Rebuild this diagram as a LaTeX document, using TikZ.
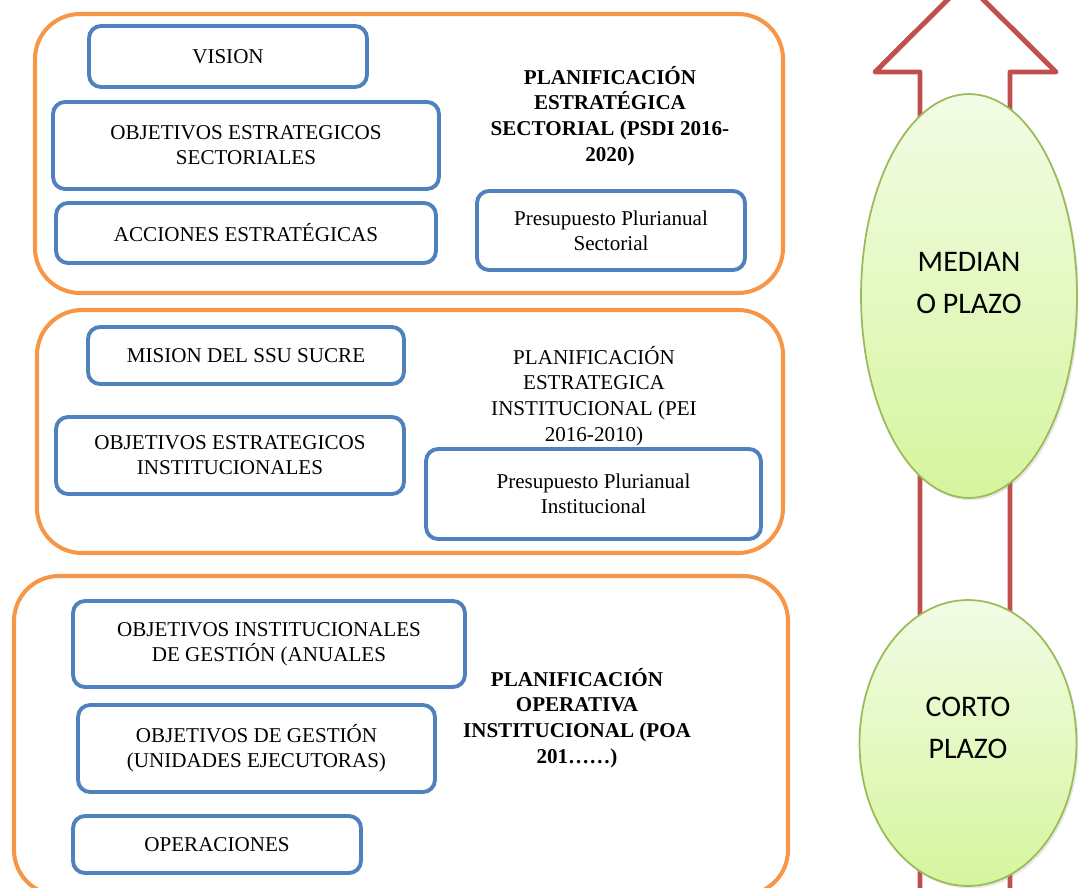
\documentclass[tikz,border=0pt]{standalone}
\usepackage{fontspec}
\setmainfont{Liberation Serif}
\newfontfamily\calibri{Carlito}
\usetikzlibrary{shapes.geometric,shadows}
\definecolor{planorange}{HTML}{F79646}
\definecolor{itemblue}{HTML}{4F81BD}
\definecolor{arrowred}{HTML}{C0504D}
\definecolor{ovalgreen}{HTML}{9BBB59}
\definecolor{ovaltop}{HTML}{F2FCE5}
\definecolor{ovalbottom}{HTML}{D6F59E}

\begin{document}
\begin{tikzpicture}[x=0.02cm, y=-0.02cm,
    plan/.style={draw=planorange, line width=2.3pt, rounded corners=0.9cm},
    item/.style={draw=itemblue, line width=2.2pt, rounded corners=0.24cm, align=center,
      inner sep=0pt, font=\fontsize{12}{14.2}\selectfont},
    plantitle/.style={align=center, font=\fontsize{12}{14.6}\selectfont},
    term/.style={ellipse, draw=ovalgreen, line width=1pt, inner sep=0pt,
      top color=ovaltop, bottom color=ovalbottom,
      drop shadow={opacity=0.18, shadow xshift=0.04cm, shadow yshift=-0.05cm}},
    termtext/.style={align=center, font=\calibri\fontsize{17}{23.5}\selectfont}]
  \useasboundingbox (0,0) rectangle (1078,888);
  \clip (0,0) rectangle (1078,888);

  % Arrow behind the ovals:
  \draw[arrowred, line width=2.8pt, line join=round]
    (920,920) -- (920,72) -- (875,72) -- (965.5,-18) -- (1056,72) -- (1010,72) -- (1010,920);
  \node[term, minimum width=4.32cm, minimum height=8.08cm] (mediano) at (969,296) {};
  \node[termtext] (medianotext) at (969,283) {MEDIAN\\O PLAZO};
  \node[term, minimum width=4.34cm, minimum height=5.72cm] (corto) at (968,743) {};
  \node[termtext] (cortotext) at (968,728) {CORTO\\PLAZO};

  % Planning levels:
  \draw[plan] (35,14) rectangle (783,293);
  \draw[plan] (37,310) rectangle (783,553);
  \draw[plan] (14,576) rectangle (788,895);

  % Sectorial level
  \node[item, minimum width=5.56cm, minimum height=1.22cm] (vision) at (228,56.5) {VISION};
  \node[item, minimum width=7.72cm, minimum height=1.74cm] (objsect) at (246,145.5) {OBJETIVOS ESTRATEGICOS\\SECTORIALES};
  \node[item, minimum width=7.6cm, minimum height=1.2cm] (acciones) at (246,233) {ACCIONES ESTRATÉGICAS};
  \node[item, minimum width=5.36cm, minimum height=1.58cm] (presect) at (611,230.5) {Presupuesto Plurianual\\Sectorial};
  \node[plantitle, font=\bfseries\fontsize{12}{14.6}\selectfont] (psdi) at (610,116)
    {PLANIFICACIÓN\\ESTRATÉGICA\\SECTORIAL (PSDI 2016-\\2020)};

  % Institutional level
  \node[item, minimum width=6.32cm, minimum height=1.14cm] (mision) at (246,355.5) {MISION DEL SSU SUCRE};
  \node[item, minimum width=6.96cm, minimum height=1.54cm] (objinst) at (230,455.5) {OBJETIVOS ESTRATEGICOS\\INSTITUCIONALES};
  \node[item, minimum width=6.7cm, minimum height=1.8cm] (preinst) at (593.5,494) {Presupuesto Plurianual\\Institucional};
  \node[plantitle] (pei) at (594,396)
    {PLANIFICACIÓN\\ESTRATEGICA\\INSTITUCIONAL (PEI\\2016-2010)};

  % Operative level
  \node[item, minimum width=7.84cm, minimum height=1.72cm] (objgestanual) at (269,644) {OBJETIVOS INSTITUCIONALES\\DE GESTIÓN (ANUALES};
  \node[item, minimum width=7.14cm, minimum height=1.74cm] (objgest) at (256.5,748.5) {OBJETIVOS DE GESTIÓN\\(UNIDADES EJECUTORAS)};
  \node[item, minimum width=5.76cm, minimum height=1.14cm] (operaciones) at (217,844.5) {OPERACIONES};
  \node[plantitle, font=\bfseries\fontsize{12}{14.6}\selectfont] (poa) at (577,718)
    {PLANIFICACIÓN\\OPERATIVA\\INSTITUCIONAL (POA\\201……)};
\end{tikzpicture}
\end{document}
